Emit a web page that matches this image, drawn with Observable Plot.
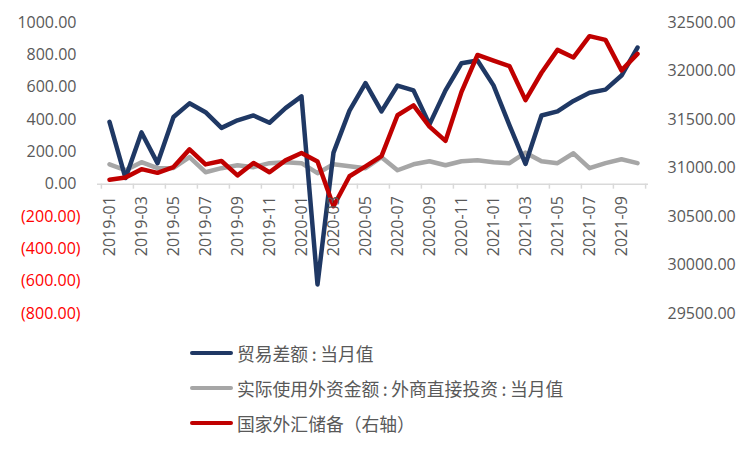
<!DOCTYPE html>
<html><head><meta charset="utf-8">
<script src="https://cdn.jsdelivr.net/npm/d3@7"></script>
<script src="https://cdn.jsdelivr.net/npm/@observablehq/plot@0.6"></script>
<style>
body{margin:0;background:#fff;}
#wrap{position:relative;width:752px;height:451px;overflow:hidden}
.row{position:absolute;left:190px;height:24px;display:flex;align-items:center;font-family:"Noto Sans CJK SC",sans-serif;font-size:17.8px;color:#595959;white-space:nowrap}
.sw{width:43px;height:4.5px;border-radius:3px;margin-right:4px}
.colon{display:inline-block;width:12px;text-align:center}
</style></head><body><div id="wrap"><div id="chart"></div><div id="legend"></div></div>
<script>
const months = [
  "2019-01","2019-02","2019-03","2019-04","2019-05","2019-06","2019-07","2019-08","2019-09","2019-10","2019-11","2019-12",
  "2020-01","2020-02","2020-03","2020-04","2020-05","2020-06","2020-07","2020-08","2020-09","2020-10","2020-11","2020-12",
  "2021-01","2021-02","2021-03","2021-04","2021-05","2021-06","2021-07","2021-08","2021-09","2021-10"
];
// 贸易差额:当月值 (left axis)
const tradeBalance = [385, 38, 320, 130, 415, 500, 445, 348, 395, 425, 380, 470,
  543, -620, 195, 455, 625, 450, 610, 580, 370, 580, 748, 765,
  611, 364, 125, 425, 450, 515, 565, 585, 672, 845];
// 实际使用外资金额:外商直接投资:当月值 (left axis)
const fdi = [123, 86, 136, 99, 100, 167, 74, 99, 117, 105, 130, 136,
  130, 68, 123, 111, 99, 167, 86, 123, 142, 117, 142, 148,
  136, 130, 195, 142, 130, 191, 99, 130, 154, 130];
// 国家外汇储备 (right axis)
const reserves = [30879, 30901, 30988, 30950, 31010, 31192, 31037, 31072, 30924, 31052, 30956, 31079,
  31155, 31067, 30606, 30915, 31017, 31123, 31544, 31646, 31426, 31280, 31785, 32165,
  32107, 32050, 31700, 31982, 32218, 32140, 32359, 32321, 32006, 32176];
const leftTicks = [-800, -600, -400, -200, 0, 200, 400, 600, 800, 1000];
const rightTicks = [29500, 30000, 30500, 31000, 31500, 32000, 32500];
const seriesNames = ["贸易差额:当月值", "实际使用外资金额:外商直接投资:当月值", "国家外汇储备（右轴）"];
const seriesColors = ["#1F3864", "#A6A6A6", "#C00000"];

const data = months.map((m, i) => ({month: m, trade: tradeBalance[i], fdi: fdi[i], reserve: reserves[i]}));
// map right axis domain [29500, 32500] onto left axis domain [-800, 1000]
const toLeft = v => (v - 32500) * (1800 / 3000) + 1000;
const tickMonths = months.filter((m, i) => i % 2 === 0);
const W = 752, H = 330, ML = 97, MR = 104;
const step = (W - ML - MR) / months.length;
const txt = "#595959";
const fmt = v => v < 0 ? `(${Math.abs(v).toFixed(2)})` : v.toFixed(2);

const chart = Plot.plot({
  width: W, height: H, marginTop: 22, marginBottom: 17, marginLeft: ML, marginRight: MR,
  x: {type: "point", domain: months, padding: 0.5, axis: null},
  y: {domain: [-800, 1000], axis: null},
  style: {fontFamily: "'Open Sans', sans-serif", fontSize: "16px", color: txt, background: "#fff"},
  marks: [
    Plot.ruleY([0], {stroke: "#D9D9D9", strokeWidth: 1.5}),
    Plot.ruleX(tickMonths, {x: d => d, y1: 0, y2: 0, insetBottom: -5, dx: -step / 2, stroke: "#D9D9D9", strokeWidth: 1.5}),
    Plot.ruleX([months[months.length - 1]], {x: d => d, y1: 0, y2: 0, insetBottom: -5, dx: step / 2, stroke: "#D9D9D9", strokeWidth: 1.5}),
    Plot.line(data, {x: "month", y: "fdi", stroke: seriesColors[1], strokeWidth: 4.5, strokeLinejoin: "round", strokeLinecap: "round"}),
    Plot.line(data, {x: "month", y: "trade", stroke: seriesColors[0], strokeWidth: 4.5, strokeLinejoin: "round", strokeLinecap: "round"}),
    Plot.line(data, {x: "month", y: d => toLeft(d.reserve), stroke: seriesColors[2], strokeWidth: 4.5, strokeLinejoin: "round", strokeLinecap: "round"}),
    Plot.text(tickMonths, {x: d => d, y: 0, text: d => d, rotate: -90, textAnchor: "end", dy: 12, fill: txt}),
    Plot.text(leftTicks.filter(v => v >= 0), {y: d => d, text: fmt, frameAnchor: "left", textAnchor: "end", dx: -21, fill: txt}),
    Plot.text(leftTicks.filter(v => v < 0), {y: d => d, text: fmt, frameAnchor: "left", textAnchor: "end", dx: -17, fill: "#FF0000"}),
    Plot.text(rightTicks, {y: d => toLeft(d), text: d => d.toFixed(2), frameAnchor: "right", textAnchor: "start", dx: 19, fill: txt})
  ]
});
document.getElementById("chart").appendChild(chart);

const legend = document.getElementById("legend");
const tops = [341, 376, 411];
seriesNames.forEach((name, k) => {
  const row = document.createElement("div");
  row.className = "row";
  row.style.top = tops[k] + "px";
  const sw = document.createElement("span");
  sw.className = "sw";
  sw.style.background = seriesColors[k];
  const t = document.createElement("span");
  name.split(":").forEach((part, j) => {
    if (j > 0) {
      const c = document.createElement("span");
      c.className = "colon";
      c.textContent = ":";
      t.appendChild(c);
    }
    t.appendChild(document.createTextNode(part));
  });
  row.appendChild(sw); row.appendChild(t);
  legend.appendChild(row);
});
</script></body></html>
